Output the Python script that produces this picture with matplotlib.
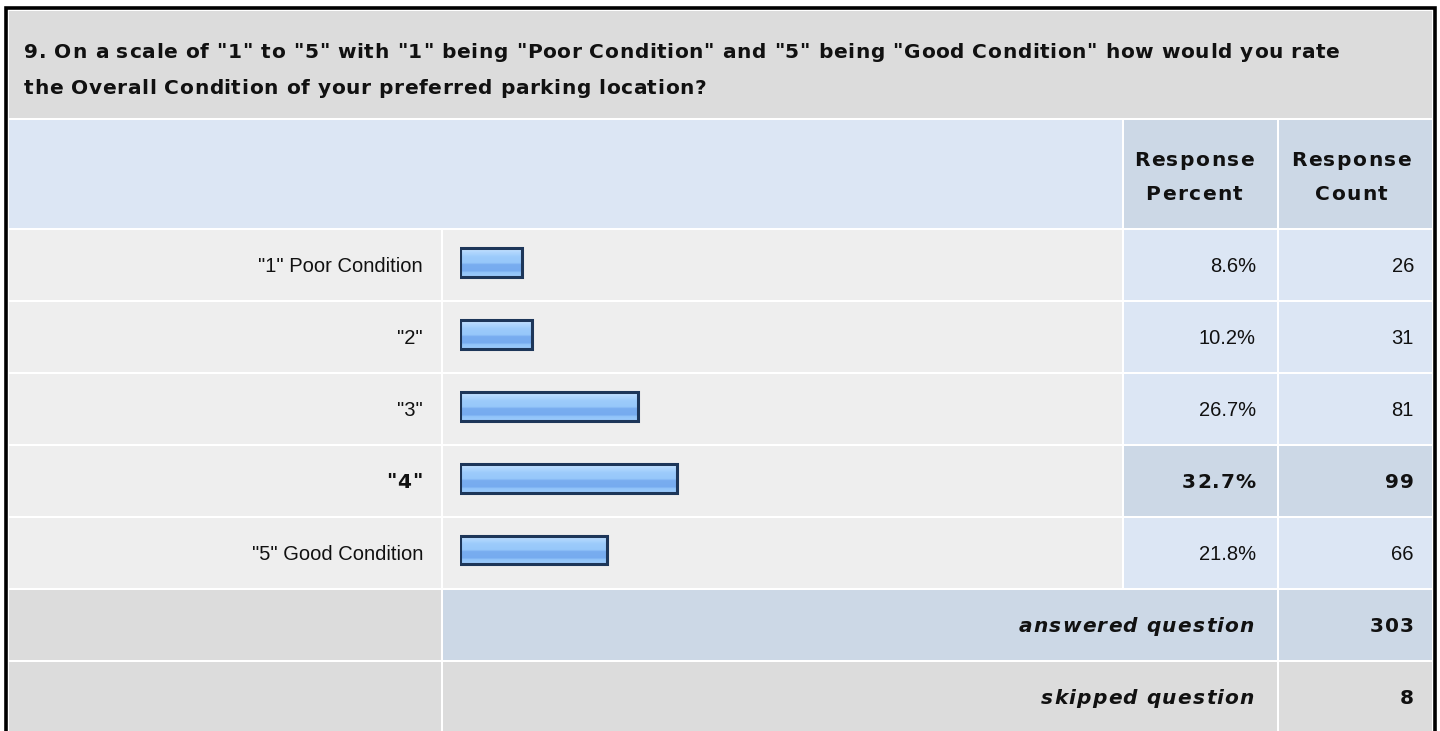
import numpy as np
import matplotlib
matplotlib.use("Agg")
import matplotlib.pyplot as plt
from matplotlib.patches import Rectangle
from matplotlib.colors import LinearSegmentedColormap
from matplotlib.font_manager import FontProperties, findfont, get_font

# ---------------------------------------------------------
# Data
# ---------------------------------------------------------
question = ['9. On a scale of "1" to "5" with "1" being "Poor Condition" and "5" being "Good Condition" how would you rate',
            'the Overall Condition of your preferred parking location?']
options = ['"1" Poor Condition', '"2"', '"3"', '"4"', '"5" Good Condition']
percents = [8.6, 10.2, 26.7, 32.7, 21.8]
counts = [26, 31, 81, 99, 66]
answered = 303
skipped = 8
top_idx = int(np.argmax(counts))

FAMILY = 'Liberation Sans'
BOLD_FAMILY = 'DejaVu Sans'   # wider bold, closer to the original's heavy headings
plt.rcParams['font.family'] = [FAMILY, 'DejaVu Sans']

W, H = 1440, 731
DPI = 100
FS = 14.5
fig = plt.figure(figsize=(W / DPI, H / DPI), dpi=DPI)
fig.patch.set_facecolor('white')

# layout axes in pixel units
ax = fig.add_axes([0, 0, 1, 1])
ax.set_xlim(0, W)
ax.set_ylim(H, 0)
ax.axis('off')

GRAY = '#dcdcdc'
ROW = '#eeeeee'
LBLUE = '#dce6f4'
DBLUE = '#ccd8e6'


def cell(x0, x1, y0, y1, color):
    ax.add_patch(Rectangle((x0, y0), x1 - x0, y1 - y0, facecolor=color, edgecolor='none'))


def spaced(x, y, s, spacing=0.0, ha='left', style='normal', size=14.5):
    # bold text drawn glyph by glyph to get the original's letter spacing
    fp = FontProperties(family=BOLD_FAMILY, weight='bold', style=style, size=size)
    font = get_font(findfont(fp))
    font.set_size(size, DPI)
    adv = [font.load_char(ord(c)).linearHoriAdvance / 65536 for c in s]
    total = sum(adv) + spacing * (len(s) - 1)
    if ha == 'right':
        x -= total
    elif ha == 'center':
        x -= total / 2
    for c, a in zip(s, adv):
        if c != ' ':
            ax.text(x, y, c, fontproperties=fp, ha='left', va='center', color='#111111')
        x += a + spacing


# column edges
L0, L1 = 9, 441
B0, B1 = 443, 1122
P0, P1 = 1124, 1277
C0, C1 = 1279, 1432

# outer frame
ax.plot([5.5, 5.5, 1434.5, 1434.5], [H + 5, 7.5, 7.5, H + 5], color='black', lw=2.6,
        solid_joinstyle='miter', zorder=5)

# title
cell(L0, C1, 11, 118, GRAY)
spaced(24, 52, question[0], spacing=0.6)
spaced(24, 88, question[1], spacing=0.6)

# header
cell(L0, B1, 120, 228, LBLUE)
cell(P0, P1, 120, 228, DBLUE)
cell(C0, C1, 120, 228, DBLUE)
for xc, words in [(1194, ['Response', 'Percent']), (1351, ['Response', 'Count'])]:
    spaced(xc, 160, words[0], spacing=1.5, ha='center')
    spaced(xc, 195, words[1], spacing=1.5, ha='center')

# rows
row_top = [230 + 72 * i for i in range(len(options))]
for i, (opt, pct, cnt) in enumerate(zip(options, percents, counts)):
    y0 = row_top[i]
    y1 = y0 + 70
    yc = (y0 + y1) / 2 + 1
    hi = i == top_idx
    cell(L0, L1, y0, y1, ROW)
    cell(B0, B1, y0, y1, ROW)
    cell(P0, P1, y0, y1, DBLUE if hi else LBLUE)
    cell(C0, C1, y0, y1, DBLUE if hi else LBLUE)
    if hi:
        spaced(423, yc, opt, spacing=1.0, ha='right')
        spaced(1256, yc, f'{pct}%', spacing=1.0, ha='right')
        spaced(1414, yc, str(cnt), spacing=1.0, ha='right')
    else:
        ax.text(423, yc, opt, fontsize=FS, ha='right', va='center', color='#111111')
        ax.text(1256, yc, f'{pct}%', fontsize=FS, ha='right', va='center', color='#111111')
        ax.text(1414, yc, str(cnt), fontsize=FS, ha='right', va='center', color='#111111')

# answered / skipped
ya = 590
cell(L0, L1, ya, ya + 70, GRAY)
cell(B0, P1, ya, ya + 70, DBLUE)
cell(C0, C1, ya, ya + 70, DBLUE)
spaced(1254, ya + 36, 'answered question', spacing=1.2, ha='right', style='italic')
spaced(1414, ya + 36, str(answered), spacing=1.0, ha='right')
ys = 662
cell(L0, L1, ys, H + 2, GRAY)
cell(B0, P1, ys, H + 2, GRAY)
cell(C0, C1, ys, H + 2, GRAY)
spaced(1254, ys + 36, 'skipped question', spacing=1.2, ha='right', style='italic')
spaced(1414, ys + 36, str(skipped), spacing=1.0, ha='right')

# ---------------------------------------------------------
# Bars in their own axes (percent scale)
# ---------------------------------------------------------
PX_PER_PCT = 6.43
PAD = 1.04   # bars start a little before 0
bx0, bx1 = 460, 1100
bax = fig.add_axes([bx0 / W, 1 - 589 / H, (bx1 - bx0) / W, (589 - 230) / H])
n = len(options)
ycent = np.arange(n)
bax.axis('off')

grad = LinearSegmentedColormap.from_list('barg', [
    (0.0, '#d2e9ff'), (0.12, '#b3d8fe'), (0.3, '#9ccbfb'), (0.52, '#96c7fa'),
    (0.56, '#79adf0'), (0.8, '#76abef'), (0.84, '#90c3f9'), (1.0, '#9dcbfb')])
gimg = np.linspace(0, 1, 64).reshape(-1, 1)
bars = bax.barh(ycent - 0.03, [p + PAD for p in percents], left=-PAD, height=0.4,
                facecolor='none', edgecolor='#1d3659', linewidth=2.2, zorder=3)
for b in bars:
    x, y = b.get_x(), b.get_y()
    w, h = b.get_width(), b.get_height()
    im = bax.imshow(gimg, cmap=grad, aspect='auto', extent=(x, x + w, y + h, y),
                    interpolation='bilinear', zorder=2)
    im.set_clip_path(b)
bax.set_xlim(-PAD, -PAD + (bx1 - bx0) / PX_PER_PCT)
bax.set_ylim(n - 1 + 0.5 + 1 / 72, -0.5 + 1 / 72)

fig.savefig('out.png', dpi=DPI, facecolor='white')
